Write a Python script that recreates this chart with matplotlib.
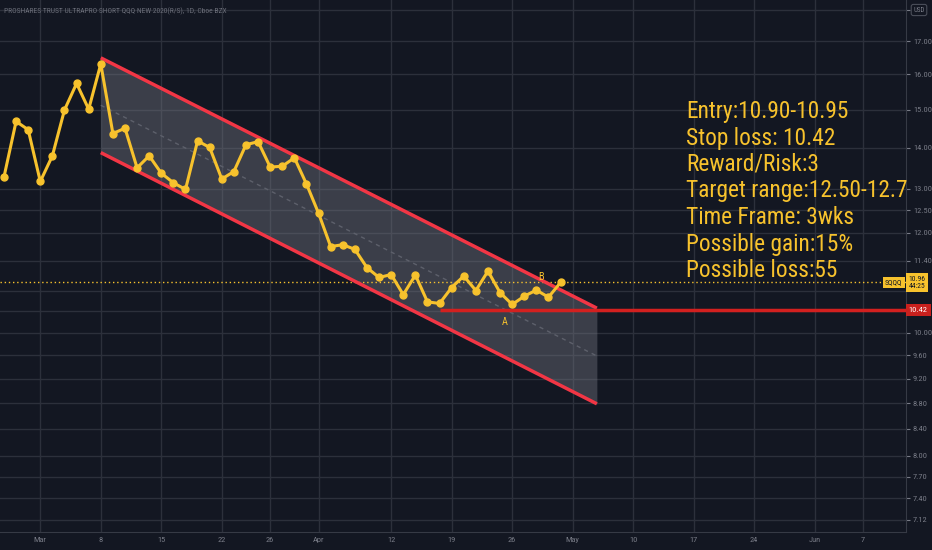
import numpy as np
import matplotlib
matplotlib.use('Agg')
import matplotlib.pyplot as plt
import matplotlib.transforms as mtransforms
from matplotlib import font_manager as fm

# x = trading-day index, 0 = Mar 1 2021
day = np.arange(-3, 44)
close = [13.28, 14.69, 14.47, 13.17, 13.80, 15.00, 15.74, 15.02, 16.31, 14.37,
         14.51, 13.50, 13.80, 13.37, 13.14, 12.98, 14.18, 14.01, 13.23, 13.41,
         14.08, 14.16, 13.52, 13.54, 13.75, 13.11, 12.43, 11.70, 11.74, 11.64,
         11.26, 11.06, 11.12, 10.72, 11.11, 10.58, 10.55, 10.86, 11.09, 10.80,
         11.19, 10.76, 10.53, 10.69, 10.81, 10.67, 10.96]

# parallel channel (two anchor days, upper / lower prices)
chan_days = [5, 46]
chan_upper = [16.49, 10.46]
chan_lower = [13.88, 8.79]

stop_day = 33
stop_price = 10.42
last_price = 10.96

xtick_pos = [0, 5, 10, 15, 19, 23, 29, 34, 39, 44, 49, 54, 59, 64, 68]
xtick_lab = ['Mar', '8', '15', '22', '26', 'Apr', '12', '19', '26', 'May',
             '10', '17', '24', 'Jun', '7']
ytick_pos = [7.12, 7.40, 7.70, 8.00, 8.40, 8.80, 9.20, 9.60, 10.00, 10.40,
             10.80, 11.40, 12.00, 12.50, 13.00, 14.00, 15.00, 16.00, 17.00, 18.00]
ytick_hidden = [10.40, 10.80, 18.00]

notes = ['Entry:10.90-10.95', 'Stop loss: 10.42', 'Reward/Risk:3',
         'Target range:12.50-12.7', 'Time Frame: 3wks', 'Possible gain:15%',
         'Possible loss:55']

title = 'PROSHARES TRUST ULTRAPRO SHORT QQQ NEW 2020(R/S), 1D, Cboe BZX'

installed = {f.name for f in fm.fontManager.ttflist}


def pick(*fams):
    for f in fams:
        if f in installed:
            return f
    return 'DejaVu Sans'


note_font = pick('Ubuntu Condensed', 'Roboto Condensed', 'Liberation Sans Narrow')
axis_font = pick('Roboto Condensed', 'Ubuntu Condensed', 'Liberation Sans Narrow')

BG = '#131722'
GRID = '#2c303b'
AXTXT = '#787b86'
YEL = '#f7c22d'
RED = '#f23645'

W, H = 932, 550
fig = plt.figure(figsize=(W / 100, H / 100), dpi=100, facecolor=BG)
ax = fig.add_axes([0, 1 - 531.7 / H, 906 / W, 531.7 / H], facecolor=BG)
ax.set_yscale('log')
ax.set_xlim(-3.33, 71.55)
ax.set_ylim(6.966, 18.32)

# grid
ax.set_xticks(xtick_pos)
ax.set_xticklabels(xtick_lab)
ax.set_yticks(ytick_pos)
ax.set_yticklabels(['' if v in ytick_hidden else f'{v:.2f}' for v in ytick_pos])
ax.yaxis.set_minor_locator(matplotlib.ticker.NullLocator())
ax.grid(True, color=GRID, lw=1)
ax.set_axisbelow(True)
ax.yaxis.tick_right()
ax.tick_params(axis='y', colors=AXTXT, labelsize=6, length=3, width=0.8, pad=2)
ax.tick_params(axis='x', colors=AXTXT, labelsize=6, length=0, pad=4)
for lab in ax.get_xticklabels() + ax.get_yticklabels():
    lab.set_family(axis_font)
for s in ['top', 'left']:
    ax.spines[s].set_visible(False)
for s in ['right', 'bottom']:
    ax.spines[s].set_color('#363a45')

# channel
mid = np.sqrt(np.array(chan_upper) * np.array(chan_lower))
ax.fill_between(chan_days, chan_lower, chan_upper, color='#787b86', alpha=0.4,
                lw=0, zorder=2)
ax.plot(chan_days, mid, color='#5d606b', lw=1, ls=(0, (3, 3)), zorder=3)
ax.plot(chan_days, chan_upper, color=RED, lw=2.5, zorder=4, solid_capstyle='butt')
ax.plot(chan_days, chan_lower, color=RED, lw=2.5, zorder=4, solid_capstyle='butt')

# stop loss line
ax.plot([stop_day, ax.get_xlim()[1]], [stop_price, stop_price], color='#d3201f',
        lw=2.5, zorder=4, solid_capstyle='butt')

# last price line
ax.axhline(last_price, color=YEL, lw=1, ls=(0, (1, 2)), zorder=3)

# price series
ax.plot(day, close, color=YEL, lw=2.2, marker='o', ms=5, zorder=5)

# A / B labels
ax.text(38.4, 10.2, 'A', color=YEL, fontsize=7.5, ha='center', va='center',
        family=axis_font, zorder=6)
ax.text(41.4, 11.07, 'B', color=YEL, fontsize=7.5, ha='center', va='center',
        family=axis_font, zorder=6)

# right axis labels
tr = mtransforms.blended_transform_factory(ax.transAxes, ax.transData)
ax.text(1.003, last_price, f'{last_price:.2f}\n44:25', transform=tr, ha='left',
        va='center', fontsize=5.5, color='#131722', family=axis_font, linespacing=1.2,
        bbox=dict(boxstyle='square,pad=0.35', fc=YEL, ec='none'), clip_on=False, zorder=7)
ax.text(0.996, last_price, 'SQQQ', transform=tr, ha='right', va='center',
        fontsize=5.5, color='#131722', family=axis_font,
        bbox=dict(boxstyle='square,pad=0.3', fc=YEL, ec='none'), clip_on=False, zorder=7)
ax.text(1.003, stop_price, f'{stop_price:.2f}', transform=tr, ha='left',
        va='center', fontsize=6, color='white', family=axis_font,
        bbox=dict(boxstyle='square,pad=0.35', fc='#c9211e', ec='none'), clip_on=False, zorder=7)

fig.text(919 / W, 1 - 10 / H, 'USD', ha='center', va='center', fontsize=5,
         color=AXTXT, family=axis_font,
         bbox=dict(boxstyle='round,pad=0.3,rounding_size=0.3', fc='none', ec='#4a4e59', lw=0.8))

# title
fig.text(4 / W, 1 - 11 / H, title, ha='left', va='center', fontsize=5.4,
         color='#6a6d78', family=axis_font)

# notes
for k, line in enumerate(notes):
    fig.text(686 / W, 1 - (118 + 26.5 * k) / H, line, ha='left', va='baseline',
             fontsize=16.8, color=YEL, family=note_font, zorder=8)

fig.savefig('out.png', dpi=100, facecolor=BG)
